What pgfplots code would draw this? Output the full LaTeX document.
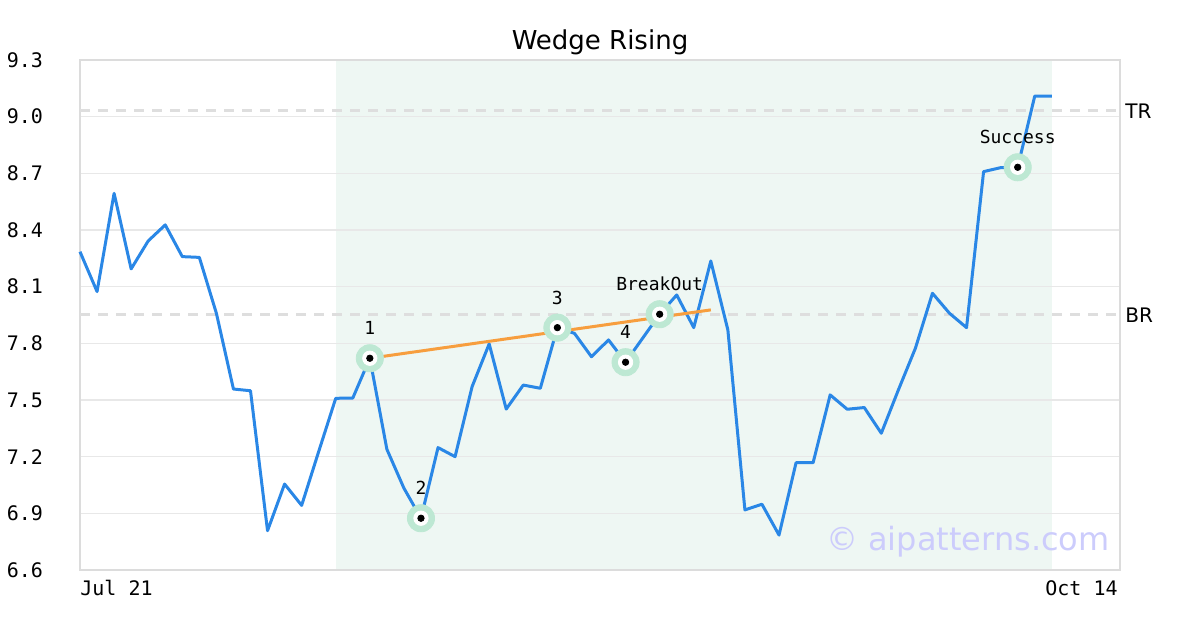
\documentclass[border=0pt]{standalone}
\usepackage{pgfplots}
\pgfplotsset{compat=1.18}
\usepackage{pgfplotstable}
\usepackage{fontspec}
\setmainfont{DejaVu Sans}
\newfontfamily\monofont{DejaVu Sans Mono}
\definecolor{lineblue}{RGB}{42,135,230}
\definecolor{trendorange}{RGB}{247,158,62}
\definecolor{shade}{RGB}{238,247,243}
\definecolor{markgreen}{RGB}{189,232,211}
\definecolor{dashgray}{RGB}{222,222,222}
\definecolor{gridgray}{RGB}{232,232,232}
\definecolor{framegray}{RGB}{220,220,220}
\definecolor{wmark}{RGB}{204,204,252}

\pgfplotstableread{
x y
0 8.285
1 8.074
2 8.594
3 8.194
4 8.342
5 8.427
6 8.259
7 8.255
8 7.959
9 7.558
10 7.549
11 6.808
12 7.055
13 6.942
14 7.227
15 7.509
16 7.510
17 7.721
18 7.239
19 7.033
20 6.874
21 7.248
22 7.200
23 7.571
24 7.797
25 7.452
26 7.579
27 7.562
28 7.883
29 7.853
30 7.729
31 7.818
32 7.700
33 7.827
34 7.954
35 8.056
36 7.883
37 8.236
38 7.871
39 6.918
40 6.948
41 6.785
42 7.168
43 7.168
44 7.527
45 7.451
46 7.460
47 7.324
48 7.553
49 7.774
50 8.065
51 7.959
52 7.883
53 8.709
54 8.730
55 8.732
56 9.109
57 9.109
}\pricedata

\pgfplotstableread{
x y label
17 7.721 1
20 6.874 2
28 7.883 3
32 7.700 4
34 7.954 BreakOut
55 8.732 Success
}\pointdata

\begin{document}
\begin{tikzpicture}
\begin{axis}[
  set layers,
  scale only axis,
  width=520pt, height=255pt,
  xmin=0, xmax=61,
  ymin=6.6, ymax=9.3,
  clip=false,
  axis line style={draw=framegray, line width=1pt},
  major tick length=0pt,
  ytick={6.6,6.9,7.2,7.5,7.8,8.1,8.4,8.7,9.0,9.3},
  ymajorgrids,
  major grid style={draw=gridgray, line width=0.6pt},
  /pgf/number format/assume math mode=true,
  /pgf/number format/fixed,
  /pgf/number format/fixed zerofill,
  /pgf/number format/precision=1,
  yticklabel style={font=\monofont\fontsize{10}{12}\selectfont, xshift=-15pt},
  xtick={0},
  xticklabels={Jul 21},
  xticklabel style={font=\monofont\fontsize{10}{12}\selectfont, anchor=north west, inner sep=0pt, yshift=-5pt},
  extra x ticks={61},
  extra x tick labels={Oct 14},
  extra x tick style={xticklabel style={anchor=north east, xshift=-1pt}, grid=none},
]
% shaded pattern region
\addplot[draw=none, fill=shade, on layer=axis background] coordinates {(15,6.6) (15,9.3) (57,9.3) (57,6.6)} -- cycle;
% TR / BR dashed levels
\addplot[dashgray, line width=1.5pt, dash pattern=on 5pt off 4pt] coordinates {(0,9.03) (61,9.03)};
\addplot[dashgray, line width=1.5pt, dash pattern=on 5pt off 4pt] coordinates {(0,7.95) (61,7.95)};
% price line
\addplot[lineblue, line width=1.5pt, line join=round] table[x=x,y=y] {\pricedata};
% trend line
\addplot[trendorange, line width=1.5pt] coordinates {(17,7.721) (37,7.977)};
% markers
\addplot[only marks, color=markgreen, mark=*, mark size=6.8pt, mark options={draw=markgreen, fill=markgreen, line width=0.4pt}] table[x=x,y=y] {\pointdata};
\addplot[only marks, color=white, mark=*, mark size=3.6pt, mark options={draw=white, fill=white, line width=0.4pt}] table[x=x,y=y] {\pointdata};
\addplot[only marks, color=black, mark=*, mark size=1.6pt, mark options={draw=black, fill=black, line width=0.4pt}] table[x=x,y=y] {\pointdata};
% labels
\addplot[only marks, mark=none, nodes near coords, point meta=explicit symbolic,
  nodes near coords style={anchor=center, yshift=15pt, font=\monofont\fontsize{9}{11}\selectfont, text=black}]
  table[x=x,y=y,meta=label] {\pointdata};
% level labels
\node[anchor=west, inner sep=0pt, xshift=2.5pt, font=\fontsize{10}{12}\selectfont] at (axis cs:61,9.03) {TR};
\node[anchor=west, inner sep=0pt, xshift=2.5pt, font=\fontsize{10}{12}\selectfont] at (axis cs:61,7.95) {BR};
% title
\node[font=\fontsize{13}{15}\selectfont] at (axis description cs:0.5,1) [yshift=9pt] {Wedge Rising};
% watermark
\node[anchor=east, inner sep=0pt, text=wmark, font=\fontsize{16}{18}\selectfont] at (axis description cs:0.9904,0.055) {\copyright{} aipatterns.com};
\end{axis}
\pgfresetboundingbox
\path[use as bounding box] (-40pt,-30pt) rectangle (560pt,285pt);
\end{tikzpicture}
\end{document}
